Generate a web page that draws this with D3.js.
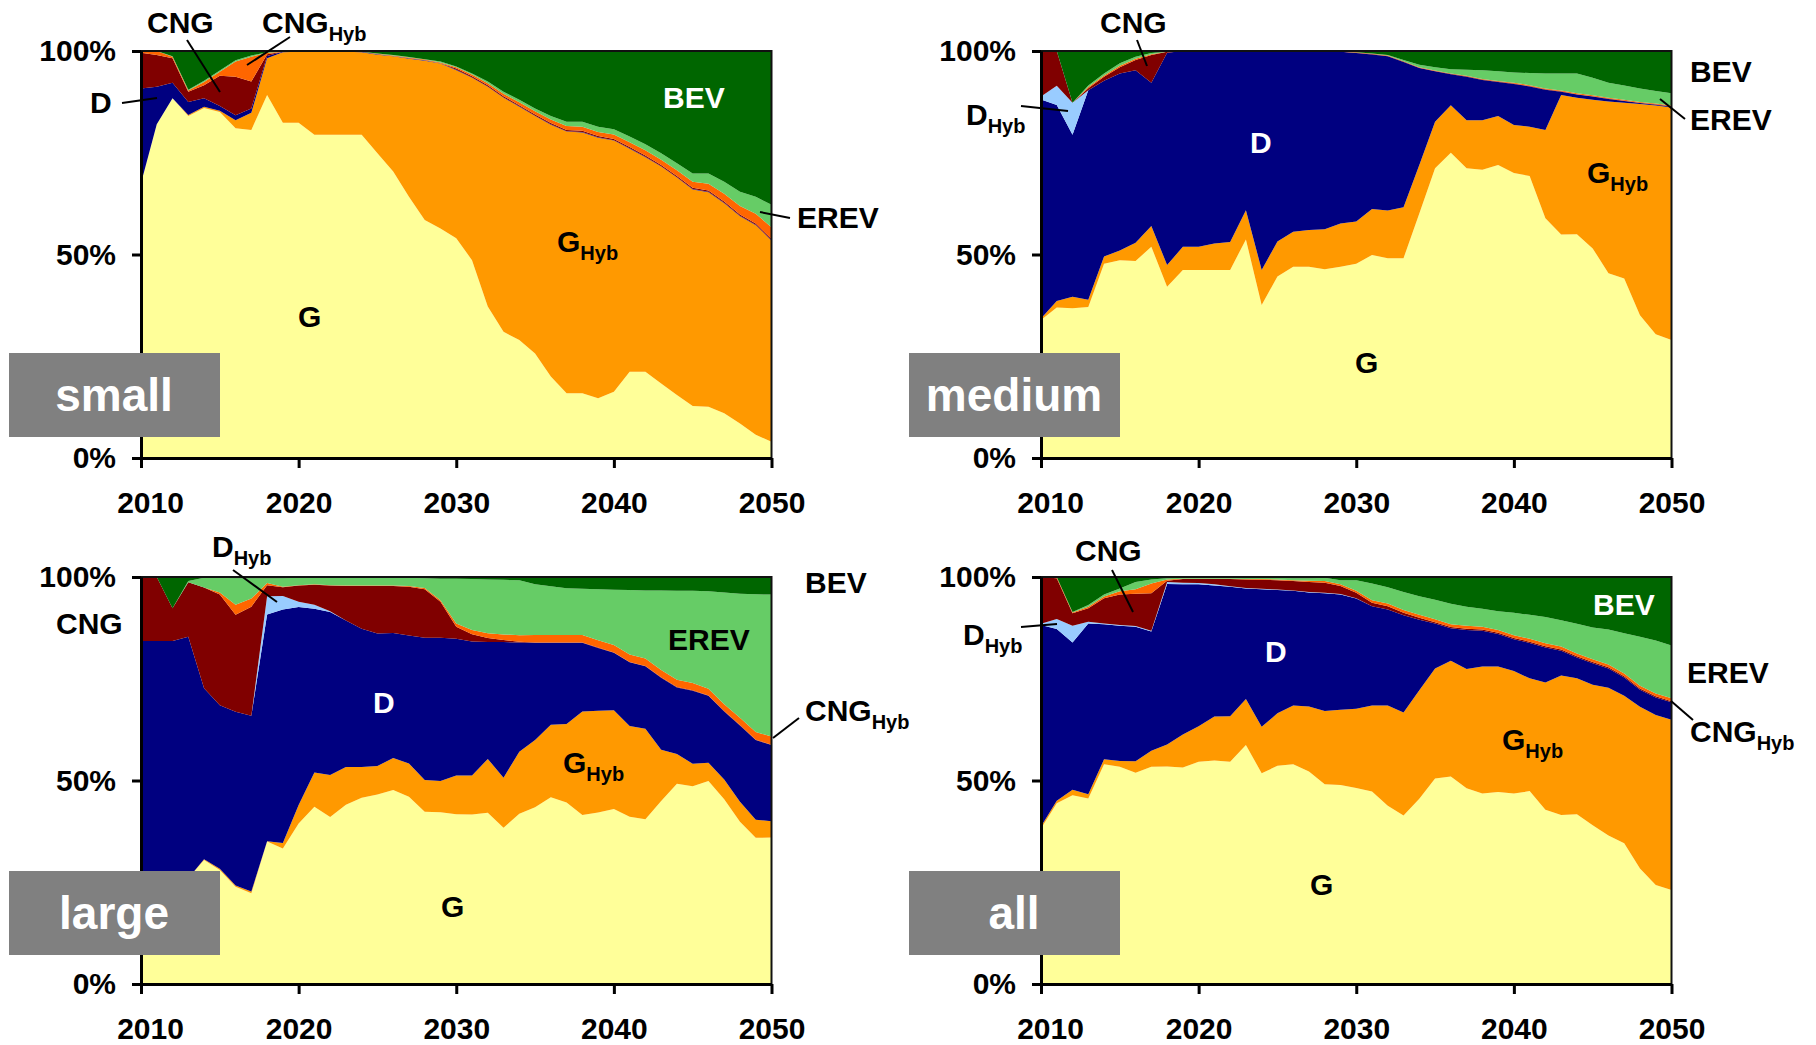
<!DOCTYPE html>
<html>
<head>
<meta charset="utf-8">
<script src="https://cdn.jsdelivr.net/npm/d3@7"></script>
<style>
  body { margin: 0; background: #fff; }
  text { font-family: "Liberation Sans", Arial, sans-serif; font-weight: bold; }
</style>
</head>
<body>
<div id="chart"></div>
<script>
const years = d3.range(2010, 2051);
const keys = ["G", "GHyb", "D", "DHyb", "CNG", "CNGHyb", "EREV", "BEV"];
const colors = {
  G: "#ffff99", GHyb: "#ff9900", D: "#000080", DHyb: "#99ccff",
  CNG: "#800000", CNGHyb: "#ff6600", EREV: "#66cc66", BEV: "#006600"
};
const yTicks = [0, 0.5, 1];
const xTicks = [2010, 2020, 2030, 2040, 2050];

// shares in % by year 2010..2050
// small cars
const small_G = [67.5,82,88.4,84,86,85,81,80.6,89.2,82.4, 82.4,79.4,79.4,79.4,79.4,74.9,70.4,64.2,58.5,56.4, 54,48.6,37.2,31,29,25.7,20,15.9,15.9,14.7, 16.3,21.2,21.2,18.3,15.5,12.8,12.6,11,8.5,5.7,4];
const small_GHyb = [0,0,0,0.3,0.3,0.3,2,4.2,9,17.3, 17.4,20.4,20.4,20.4,20.3,24.2,28.3,33.9,39.1,40.5, 41.3,44.8,54,57.5,57.3,58.3,61.9,64.3,64.1,64, 61.7,54.8,52.7,53.3,53.4,53.2,52.7,51.6,50.9,51.5,49.4];
const small_D = [23.3,9.2,3.8,3.2,2.1,1.2,1.2,1.1,0.6,0.1, 0.1,0.1,0.1,0.1,0.1,0.1,0.1,0.1,0.1,0.1, 0.1,0.1,0.1,0.1,0.1,0.1,0.1,0.1,0.1,0.1, 0.1,0.1,0.1,0.1,0.1,0.1,0.1,0.1,0.1,0.1,0.1];
const small_DHyb = [0,0,0,0,0,0,0,0,0,0, 0,0,0,0,0,0,0,0,0,0, 0,0,0,0,0,0,0,0,0,0, 0,0,0,0,0,0,0,0,0,0,0];
const small_CNG = [8.8,7.8,6,2.5,3.2,7.4,9.5,6.6,0.4,0, 0,0,0,0,0,0,0,0,0,0, 0.3,0.3,0.3,0.3,0.3,0.3,0.3,0.3,0.3,0.3, 0.3,0.3,0.3,0.3,0.3,0.3,0.3,0.3,0.3,0.3,0.3];
const small_CNGHyb = [0.4,1,0.4,0.3,0.8,1,3.7,6.1,0.4,0, 0,0,0,0,0,0.1,0.1,0.2,0.2,0.2, 0.3,0.4,0.5,0.6,0.7,0.8,0.9,1,1,1, 1.1,1.2,1.3,1.3,1.4,1.5,1.7,1.9,2.1,2.4,2.9];
const small_EREV = [0,0,0.1,0.2,0.3,0.3,0.3,0.3,0.1,0, 0,0,0,0,0,0.1,0.1,0.1,0.1,0.2, 0.2,0.3,0.4,0.5,0.6,0.7,0.8,1,1.2,1.3, 1.3,1.4,1.5,1.6,1.7,2,2.5,3,3.5,4.2,5.5];
const small_BEV = [0,0,1.3,9.5,7.3,4.8,2.3,1.1,0.3,0.2, 0.1,0.1,0.1,0.1,0.2,0.6,1,1.5,2,2.6, 3.8,5.5,7.5,10,12,14.1,16,17.4,17.4,18.6, 19.2,21,22.9,25.1,27.6,30.1,30.1,32.1,34.6,35.8,37.8];

// medium cars
const medium_G = [33.9,36.8,36.8,37.2,47.7,48.6,48.4,51.9,42.1,46.2, 46.2,46.2,46.2,53.7,37.6,44.6,47,47,46.4,47, 47.7,49.9,49.1,49.1,60.1,71.2,75,71.2,70.8,72, 70,69.3,58.9,54.9,55,51.5,45.4,44.1,35.1,30.4,29];
const medium_GHyb = [0.4,1.6,2.8,1.8,1.8,2.4,4.5,5.1,5.3,5.7, 5.7,6.5,6.9,7.2,8.6,8.6,8.6,9,9.8,10.6, 10.4,11.3,11.7,12.5,11.9,11.4,11.7,11.8,12.2,12, 11.8,12.1,21.7,34.3,33.5,36.5,42.2,43.2,51.9,56.2,57.1];
const medium_D = [53.8,47.9,39.8,51.6,43.2,43.5,42.4,35.2,52.2,48.1, 48.1,47.3,46.9,39.1,53.8,46.8,44.4,44,43.7,42.2, 41.4,38,37.9,35.7,23.8,12.4,7.6,10.7,9.9,8.4, 10.1,9.9,9.9,0.8,0.8,0.8,0.6,0.4,0.2,0.2,0.2];
const medium_DHyb = [0.7,4.7,7.9,0,0,0,0,0,0,0, 0,0,0,0,0,0,0,0,0,0, 0,0,0,0,0,0,0,0,0,0, 0,0,0,0,0,0,0,0,0,0,0];
const medium_CNG = [11.2,8.5,0,0.5,1,1.5,2.5,6.8,0.2,0, 0,0,0,0,0,0,0,0,0,0, 0.1,0.1,0.1,0.1,0.1,0.1,0.1,0.1,0.1,0.1, 0.1,0.1,0.1,0.1,0.1,0.1,0.1,0.1,0.1,0.1,0.1];
const medium_CNGHyb = [0,0,0,0.3,0.3,0.4,0.3,0.2,0,0, 0,0,0,0,0,0,0,0,0,0, 0.1,0.1,0.1,0.1,0.1,0.1,0.1,0.1,0.1,0.1, 0.2,0.2,0.2,0.2,0.2,0.2,0.2,0.2,0.2,0.2,0.2];
const medium_EREV = [0,0,0,0.4,0.5,0.6,0.5,0.3,0,0, 0,0,0,0,0,0,0,0,0,0, 0,0.05,0.1,0.3,0.6,0.8,1,1.5,2.2,2.4, 2.5,3,3.7,4.2,4.9,4.3,3.7,3.5,3.3,3.1,3];
const medium_BEV = [0,0,12.7,8.5,5.5,3,1.4,0.5,0.2,0, 0,0,0,0,0,0,0,0,0.1,0.2, 0.3,0.6,1,2.2,3.4,4,4.5,4.6,4.7,5, 5.3,5.4,5.5,5.5,5.5,6.6,7.8,8.5,9.2,9.8,10.4];

// large cars
const large_G = [24,25,26,26,30.5,28,23.9,22.3,35,33.3, 39.5,43.6,41.1,44.1,45.8,46.6,47.7,46,42.3,42.2, 41.7,41.5,42.1,38.4,41.9,43.5,46,44.7,41.6,42.1, 42.9,41,40.4,45.1,49.3,48.7,49.7,45.6,39.9,36.2,36];
const large_GHyb = [0,0,0,0,0.2,0.3,0.3,0.4,0.1,1.4, 4.5,8.4,10.3,9.3,7.6,7,7.9,8.2,7.8,7.7, 9.5,9.5,13.2,12.3,15.2,16.6,17.8,19.3,25.5,25, 24.2,22.2,22.2,12.6,7.3,5.5,4.5,4.9,4.9,4.5,4];
const large_D = [60.3,59.3,58.3,59.3,42.1,40.2,42.7,43.2,55.7,57.4, 48.7,40.3,40.1,36,34,32.6,30.7,31.4,35,35.2, 33.6,32.8,28.7,33.3,26.9,23.9,20.2,20,16.9,15.4, 14.1,15.6,15.3,17.8,16.4,18,16.4,16.8,18.8,19.7,18.7];
const large_DHyb = [0,0,0,0,0,0,0,0,4.5,3.3, 1.3,1,0.2,0,0,0,0,0,0,0, 0,0,0,0,0,0,0,0,0,0, 0,0,0,0,0,0,0,0,0,0,0];
const large_CNG = [15.7,15.7,8,13.4,24.8,27.2,23.8,26.8,2.7,2.2, 4,4.9,6.3,8.5,10.5,11.7,11.6,12,11.9,8.8, 3,1.8,1,0.5,0.2,0.1,0.1,0.1,0.1,0.1, 0.1,0.1,0.1,0.1,0.1,0.1,0.1,0.1,0.1,0.1,0.1];
const large_CNGHyb = [0,0,0,0,0,0.5,2.5,2,0.5,0.1, 0.1,0.1,0.1,0.1,0.1,0.1,0.1,0.2,0.3,0.4, 0.8,1,1.2,1.4,1.6,1.8,1.8,1.8,1.8,1.8, 1.8,1.8,1.8,1.8,1.8,1.8,1.6,1.7,1.8,1.9,2];
const large_EREV = [0,0,0,0.3,2.4,3.6,6.5,5,1.2,2.1, 1.8,1.6,1.8,1.9,1.9,1.9,1.9,2,2.4,5.3, 11,12.5,13.2,13.4,13.5,12.5,12,11.5,11.4,12.5, 13.6,15.8,16.7,19.6,21.9,22.7,23.9,27.6,30.5,34.1,34.9];
const large_BEV = [0,0,7.7,1,0.2,0.2,0.3,0.3,0.3,0.3, 0.2,0.2,0.2,0.2,0.2,0.2,0.2,0.2,0.3,0.4, 0.4,0.5,0.6,0.7,0.8,1.8,2.3,2.8,2.9,3, 3.1,3.2,3.3,3.3,3.4,3.4,3.5,3.8,4.1,4.3,4.3];

// all cars
const all_G = [38.2,44.4,46.4,45.6,54,53.4,51.8,53.4,53.4,53.2, 54.6,54.9,54.6,58.7,51.8,53.6,54,52.2,49.1,48.9, 48.2,47.3,43.8,41.4,45.5,50.5,51,48.1,46.8,47.2, 46.8,47.4,42.8,41.5,41.7,39,36.5,34.6,28.4,24.3,23.1];
const all_GHyb = [0.5,0.6,1.3,1,1.2,1.4,2.8,3.9,5.4,8.1, 8.7,10.8,11.2,11.3,11.4,12.9,14.4,16,18,18.5, 19.5,21.1,24.6,25.3,26.7,27,28.4,29.3,31.2,30.8, 30.1,27.7,31.3,34.3,33.4,34.5,36.3,36.2,39.7,41.8,41.8];
const all_D = [49.5,42.2,36.2,42,33.2,33.2,33,29.3,39.4,36.9, 34.9,32.2,31.8,27.2,33.8,30.3,28.2,28,28.9,28.3, 27.1,24.4,23.6,23.9,17.3,11.1,8,9.6,8.8,8, 7.8,8.7,8.6,6.1,5.1,5.3,4.7,4.5,4.2,4.3,4.3];
const all_DHyb = [0.3,2.5,4.1,0.4,0.2,0.2,0.2,0.2,0.5,0.4, 0.3,0.3,0.1,0.1,0.1,0.1,0.1,0.1,0.1,0.1, 0.1,0,0,0,0,0,0,0,0,0, 0,0,0,0,0,0,0,0,0,0,0];
const all_CNG = [11.5,10,3.1,3.3,6.2,7.5,7.9,9.2,0.3,0.9, 1,1.3,1.8,2.1,2.2,2.3,2.3,2.5,2.5,2, 1.3,0.9,0.8,0.6,0.5,0.3,0.3,0.3,0.3,0.3, 0.3,0.3,0.3,0.3,0.3,0.3,0.3,0.3,0.3,0.3,0.3];
const all_CNGHyb = [0,0.3,0.2,0.4,0.4,0.8,1.1,2.4,0.3,0.1, 0.1,0.1,0.1,0.1,0.2,0.2,0.2,0.3,0.4,0.4, 0.5,0.6,0.7,0.7,0.7,0.7,0.7,0.7,0.7,0.7, 0.7,0.7,0.7,0.7,0.7,0.7,0.7,0.7,0.7,0.7,0.7];
const all_EREV = [0,0,0.1,0.4,0.5,0.7,1.8,1,0.3,0.2, 0.2,0.2,0.2,0.3,0.3,0.4,0.5,0.6,0.8,1, 2.6,4.1,4,4.4,4.6,4.8,5,4.7,4.4,4.6, 5.5,5.9,6.5,6.5,7.3,7.8,8.6,9.9,12,13,13];
const all_BEV = [0,0,8.6,6.9,4.3,2.8,1.2,0.6,0.3,0.2, 0.2,0.2,0.2,0.2,0.2,0.2,0.3,0.3,0.2,0.8, 0.8,1.6,2.5,3.7,4.7,5.6,6.6,7.3,7.8,8.4, 8.8,9.3,9.8,10.6,11.5,12.4,12.9,13.8,14.7,15.6,16.8];

const w = 1816, h = 1045;
const plotW = 630.5, plotH = 407;

const svg = d3.select("#chart")
  .append("svg")
  .attr("width", w)
  .attr("height", h);

// layout of the four panels, plus their text labels [x, baseline, main, sub, colour]
const panels = [
  { name: "small", x0: 141, y0: 51, boxY: 353,
    data: { G: small_G, GHyb: small_GHyb, D: small_D, DHyb: small_DHyb, CNG: small_CNG, CNGHyb: small_CNGHyb, EREV: small_EREV, BEV: small_BEV },
    labels: [[147, 33, "CNG", "", "#000"], [262, 33, "CNG", "Hyb", "#000"], [90, 113, "D", "", "#000"],
             [298, 327, "G", "", "#000"], [557, 252, "G", "Hyb", "#000"], [663, 108, "BEV", "", "#fff"],
             [797, 228, "EREV", "", "#000"]],
    lines: [[187, 40, 220, 92], [290, 37, 247, 65], [122, 103, 157, 98], [760, 212, 790, 218]] },
  { name: "medium", x0: 1041, y0: 51, boxY: 353,
    data: { G: medium_G, GHyb: medium_GHyb, D: medium_D, DHyb: medium_DHyb, CNG: medium_CNG, CNGHyb: medium_CNGHyb, EREV: medium_EREV, BEV: medium_BEV },
    labels: [[1100, 33, "CNG", "", "#000"], [966, 125, "D", "Hyb", "#000"], [1250, 153, "D", "", "#fff"],
             [1355, 373, "G", "", "#000"], [1587, 183, "G", "Hyb", "#000"], [1690, 82, "BEV", "", "#000"],
             [1690, 130, "EREV", "", "#000"]],
    lines: [[1137, 40, 1147, 66], [1021, 106, 1068, 111], [1660, 99, 1685, 119]] },
  { name: "large", x0: 141, y0: 577, boxY: 871,
    data: { G: large_G, GHyb: large_GHyb, D: large_D, DHyb: large_DHyb, CNG: large_CNG, CNGHyb: large_CNGHyb, EREV: large_EREV, BEV: large_BEV },
    labels: [[212, 557, "D", "Hyb", "#000"], [56, 634, "CNG", "", "#000"], [805, 593, "BEV", "", "#000"],
             [668, 650, "EREV", "", "#000"], [805, 721, "CNG", "Hyb", "#000"], [373, 713, "D", "", "#fff"],
             [441, 917, "G", "", "#000"], [563, 773, "G", "Hyb", "#000"]],
    lines: [[233, 570, 277, 602], [773, 738, 799, 718]] },
  { name: "all", x0: 1041, y0: 577, boxY: 871,
    data: { G: all_G, GHyb: all_GHyb, D: all_D, DHyb: all_DHyb, CNG: all_CNG, CNGHyb: all_CNGHyb, EREV: all_EREV, BEV: all_BEV },
    labels: [[1075, 561, "CNG", "", "#000"], [963, 645, "D", "Hyb", "#000"], [1265, 662, "D", "", "#fff"],
             [1310, 895, "G", "", "#000"], [1502, 750, "G", "Hyb", "#000"], [1593, 615, "BEV", "", "#fff"],
             [1687, 683, "EREV", "", "#000"], [1690, 742, "CNG", "Hyb", "#000"]],
    lines: [[1112, 570, 1133, 612], [1021, 627, 1057, 624], [1671, 701, 1693, 720]] }
];

function drawPanel(p) {
  const x = d3.scaleLinear().domain([2010, 2050]).range([p.x0, p.x0 + plotW]);
  const y = d3.scaleLinear().domain([0, 1]).range([p.y0 + plotH, p.y0]);

  const table = years.map((yr, i) => {
    const row = { year: yr };
    keys.forEach(k => row[k] = p.data[k][i]);
    return row;
  });
  const series = d3.stack().keys(keys).offset(d3.stackOffsetExpand)(table);

  const area = d3.area()
    .x(d => x(d.data.year))
    .y0(d => y(d[0]))
    .y1(d => y(d[1]));

  const g = svg.append("g").attr("class", "panel-" + p.name);

  g.selectAll("path.layer")
    .data(series)
    .enter()
    .append("path")
    .attr("class", "layer")
    .attr("fill", d => colors[d.key])
    .attr("d", area);

  // frame
  g.append("rect")
    .attr("x", p.x0).attr("y", p.y0)
    .attr("width", plotW).attr("height", plotH)
    .attr("fill", "none").attr("stroke", "#111").attr("stroke-width", 2);

  const yAxis = d3.axisLeft(y).tickValues(yTicks).tickFormat(d3.format(".0%"))
    .tickSize(9).tickSizeOuter(0).tickPadding(16);
  const ya = g.append("g").attr("transform", "translate(" + p.x0 + ",0)").call(yAxis);

  const xAxis = d3.axisBottom(x).tickValues(xTicks).tickFormat(d3.format("d"))
    .tickSize(10).tickSizeOuter(0).tickPadding(24);
  const xa = g.append("g").attr("transform", "translate(0," + (p.y0 + plotH) + ")").call(xAxis);

  [ya, xa].forEach(a => {
    a.select(".domain").attr("stroke", "#000").attr("stroke-width", 3);
    a.selectAll(".tick line").attr("stroke", "#000").attr("stroke-width", 3);
    a.selectAll(".tick text").attr("fill", "#000").style("font-size", "30px")
      .style("font-family", "'Liberation Sans', Arial, sans-serif").style("font-weight", "bold");
  });
  xa.selectAll(".tick text").filter(d => d === 2010).attr("dx", 9);

  // panel name box
  const bx = p.x0 - 132;
  g.append("rect")
    .attr("x", bx).attr("y", p.boxY)
    .attr("width", 211).attr("height", 84)
    .attr("fill", "#808080");
  g.append("text")
    .attr("x", bx + 105).attr("y", p.boxY + 42)
    .attr("dy", "0.35em")
    .attr("text-anchor", "middle")
    .attr("fill", "#fff")
    .style("font-size", "46px")
    .text(p.name);

  p.lines.forEach(l => {
    g.append("line")
      .attr("x1", l[0]).attr("y1", l[1]).attr("x2", l[2]).attr("y2", l[3])
      .attr("stroke", "#000").attr("stroke-width", 2);
  });

  p.labels.forEach(l => {
    const t = g.append("text")
      .attr("x", l[0]).attr("y", l[1])
      .attr("fill", l[4])
      .style("font-size", "30px");
    t.append("tspan").text(l[2]);
    if (l[3]) {
      t.append("tspan").attr("dy", 8).style("font-size", "20px").text(l[3]);
    }
  });
}

panels.forEach(drawPanel);
</script>
</body>
</html>
